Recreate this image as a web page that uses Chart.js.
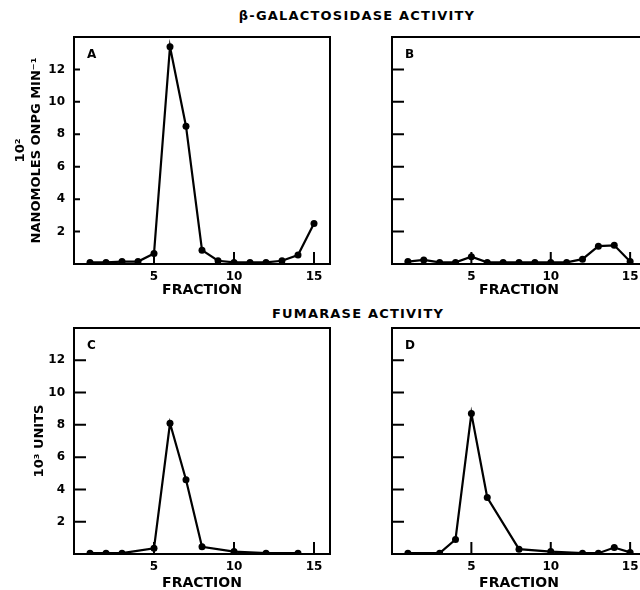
<!DOCTYPE html>
<html>
<head>
<meta charset="utf-8">
<script src="https://cdn.jsdelivr.net/npm/chart.js@4"></script>
<style>
  body { margin: 0; width: 640px; height: 590px; overflow: hidden; background: #fff; position: relative; font-family: "DejaVu Sans", sans-serif; }
  canvas { position: absolute; }
  .title { position: absolute; font-size: 13px; font-weight: bold; letter-spacing: 1.2px; color: #000; white-space: nowrap; transform: translateX(-50%); }
</style>
</head>
<body>
<div class="title" style="left:357px;top:8px">β-GALACTOSIDASE ACTIVITY</div>
<div class="title" style="left:358px;top:306px">FUMARASE ACTIVITY</div>
<canvas id="chartA" width="335" height="280" style="left:0;top:25px"></canvas>
<canvas id="chartB" width="320" height="280" style="left:335px;top:25px"></canvas>
<canvas id="chartC" width="335" height="276" style="left:0;top:316px"></canvas>
<canvas id="chartD" width="320" height="276" style="left:335px;top:316px"></canvas>
<script>
// fractions and activities
const fracAB = [1, 2, 3, 4, 5, 6, 7, 8, 9, 10, 11, 12, 13, 14, 15];
const galA = [0.1, 0.1, 0.15, 0.15, 0.65, 13.4, 8.5, 0.85, 0.2, 0.1, 0.1, 0.1, 0.2, 0.55, 2.5];
const galB = [0.15, 0.25, 0.1, 0.1, 0.45, 0.1, 0.1, 0.1, 0.1, 0.1, 0.1, 0.3, 1.1, 1.15, 0.15];
const fracC = [1, 2, 3, 5, 6, 7, 8, 10, 12, 14];
const fumC = [0.05, 0.05, 0.05, 0.35, 8.1, 4.6, 0.45, 0.15, 0.05, 0.05];
const fracD = [1, 3, 4, 5, 6, 8, 10, 12, 13, 14, 15];
const fumD = [0.05, 0.05, 0.9, 8.7, 3.5, 0.3, 0.15, 0.05, 0.05, 0.4, 0.1];

const xTicks = [5, 10, 15];
const yTicks = [2, 4, 6, 8, 10, 12];

const FONT = '"DejaVu Sans", sans-serif';

// box round the plot, inward tick marks and the panel letter
const framePlugin = {
  id: 'frame',
  afterDraw(chart, args, opts) {
    const { ctx, chartArea: a, scales: { x, y } } = chart;
    ctx.save();
    ctx.strokeStyle = '#000';
    ctx.lineWidth = 2;
    ctx.strokeRect(a.left, a.top, a.right - a.left, a.bottom - a.top);
    ctx.beginPath();
    yTicks.forEach(v => {
      const py = y.getPixelForValue(v);
      ctx.moveTo(a.left, py);
      ctx.lineTo(a.left + opts.yLen, py);
    });
    xTicks.forEach(v => {
      const px = x.getPixelForValue(v);
      ctx.moveTo(px, a.bottom);
      ctx.lineTo(px, a.bottom - 12);
    });
    ctx.stroke();
    ctx.fillStyle = '#000';
    ctx.font = 'bold 12px ' + FONT;
    ctx.fillText(opts.letter, a.left + 13, a.top + 21);
    ctx.restore();
  }
};

function makePanel(id, xs, ys, cfg) {
  const ctx = document.getElementById(id).getContext('2d');
  return new Chart(ctx, {
    type: 'line',
    data: {
      datasets: [{
        data: xs.map((v, i) => ({ x: v, y: ys[i] })),
        borderColor: '#000',
        backgroundColor: '#000',
        borderWidth: 2.2,
        pointRadius: 3.5,
        pointBorderWidth: 0,
        tension: 0,
        fill: false,
      }],
    },
    options: {
      responsive: false,
      animation: false,
      devicePixelRatio: 1,
      layout: { padding: { top: 12, right: cfg.right, left: 0, bottom: 0 } },
      plugins: {
        legend: { display: false },
        tooltip: { enabled: false },
        frame: { letter: cfg.letter, yLen: cfg.yLen },
      },
      scales: {
        x: {
          type: 'linear',
          min: 0,
          max: 16,
          grid: { display: false, drawTicks: false },
          border: { display: false },
          afterBuildTicks: s => { s.ticks = xTicks.map(v => ({ value: v })); },
          afterFit: s => { s.height = cfg.xHeight; s.paddingLeft = 0; s.paddingRight = 0; },
          ticks: { color: '#000', padding: 6, font: { family: FONT, size: 12, weight: 'bold' } },
          title: {
            display: true,
            text: 'FRACTION',
            color: '#000',
            padding: { top: 0, bottom: cfg.titlePad },
            font: { family: FONT, size: 14, weight: 'bold' },
          },
        },
        y: {
          min: 0,
          max: 14,
          grid: { display: false, drawTicks: false },
          border: { display: false },
          afterBuildTicks: s => { s.ticks = yTicks.map(v => ({ value: v })); },
          afterFit: s => { s.width = cfg.yWidth; s.paddingTop = 0; s.paddingBottom = 0; },
          ticks: {
            display: cfg.yLabels,
            color: '#000',
            padding: 9,
            font: { family: FONT, size: 12, weight: 'bold' },
          },
          title: {
            display: !!cfg.yTitle,
            text: cfg.yTitle || '',
            color: '#000',
            padding: { top: cfg.yTitlePad, bottom: 0 },
            font: { family: FONT, size: 13, weight: 'bold' },
          },
        },
      },
    },
    plugins: [framePlugin],
  });
}

makePanel('chartA', fracAB, galA, {
  letter: 'A', right: 5, xHeight: 41, titlePad: 6, yWidth: 74, yLabels: true, yLen: 6,
  yTitle: ['10²', 'NANOMOLES ONPG MIN⁻¹'], yTitlePad: 13,
});
makePanel('chartB', fracAB, galB, {
  letter: 'B', right: 9, xHeight: 41, titlePad: 6, yWidth: 57, yLabels: false, yLen: 12,
});
makePanel('chartC', fracC, fumC, {
  letter: 'C', right: 5, xHeight: 38, titlePad: 0, yWidth: 74, yLabels: true, yLen: 12,
  yTitle: '10³ UNITS', yTitlePad: 32,
});
makePanel('chartD', fracD, fumD, {
  letter: 'D', right: 9, xHeight: 38, titlePad: 0, yWidth: 57, yLabels: false, yLen: 12,
});
</script>
</body>
</html>
